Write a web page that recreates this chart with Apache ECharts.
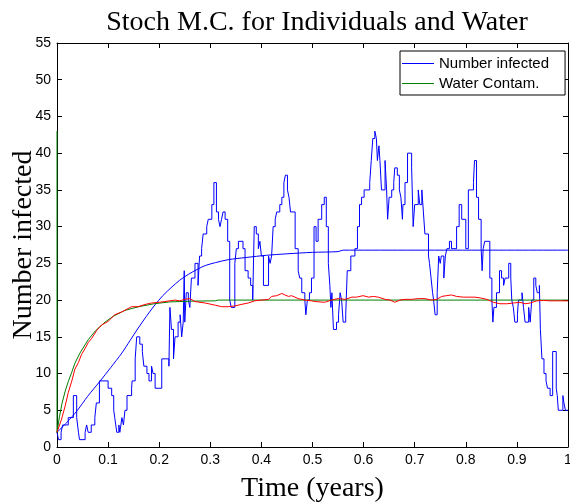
<!DOCTYPE html>
<html>
<head>
<meta charset="utf-8">
<script src="https://cdn.jsdelivr.net/npm/echarts@6/dist/echarts.min.js"></script>
<style>html,body{margin:0;padding:0;background:#fff;}#c{width:570px;height:503px;}</style>
</head>
<body>
<div id="c"></div>
<script>
// Tick labels
const xTickLabels = ['0','0.1','0.2','0.3','0.4','0.5','0.6','0.7','0.8','0.9','1'];
const yTickLabels = ['0','5','10','15','20','25','30','35','40','45','50','55'];

// Stochastic number infected [time, count]
const infectedStoch = [[0,2],[0.003,1],[0.008,2],[0.011,3],[0.022,4],[0.032,7],[0.0385,4],[0.042,2],[0.044,1],[0.055,2],[0.058,3],[0.061,2],[0.067,3],[0.074,4],[0.077,6],[0.083,9],[0.1,8],[0.107,7],[0.111,5],[0.113,4],[0.115,3],[0.117,2],[0.121,3],[0.123,2],[0.125,3],[0.127,4],[0.13,3],[0.133,5],[0.137,7],[0.146,8],[0.147,9],[0.153,12],[0.156,15],[0.162,14],[0.167,13],[0.170,11],[0.176,10],[0.180,9],[0.185,11],[0.188,10],[0.192,8],[0.205,12],[0.219,11],[0.221,19],[0.224,16],[0.228,12],[0.231,15],[0.237,17],[0.241,18],[0.244,15],[0.247,17],[0.249,24],[0.25,17],[0.253,21],[0.257,20],[0.26,19],[0.263,23],[0.27,25],[0.276,22],[0.279,26],[0.283,27],[0.286,29],[0.293,30],[0.296,31],[0.303,33],[0.307,36],[0.312,32],[0.316,31],[0.319,30],[0.322,31],[0.325,32],[0.329,31],[0.334,28],[0.338,20],[0.341,19],[0.348,25],[0.351,27],[0.355,28],[0.364,27],[0.368,24],[0.374,23],[0.379,22],[0.383,20],[0.386,30],[0.39,29],[0.394,27],[0.397,28],[0.4,26],[0.404,22],[0.414,26],[0.417,25],[0.42,26],[0.423,30],[0.427,31],[0.43,32],[0.436,33],[0.44,34],[0.444,36],[0.447,37],[0.451,35],[0.454,34],[0.457,32],[0.466,27],[0.472,24],[0.475,23],[0.479,21],[0.485,20],[0.487,18],[0.49,20],[0.494,21],[0.498,23],[0.503,30],[0.507,28],[0.511,31],[0.518,33],[0.523,34],[0.527,30],[0.531,25],[0.534,22],[0.536,19],[0.538,21],[0.541,16],[0.547,17],[0.551,18],[0.554,21],[0.557,20],[0.56,17],[0.565,18],[0.568,24],[0.575,26],[0.583,27],[0.588,30],[0.592,33],[0.596,34],[0.601,35],[0.612,36],[0.615,39],[0.618,42],[0.622,43],[0.625,42],[0.627,39],[0.63,41],[0.632,39],[0.635,35],[0.642,39],[0.645,35],[0.647,31],[0.65,34],[0.655,35],[0.659,36],[0.661,38],[0.666,37],[0.67,35],[0.673,34],[0.676,31],[0.677,33],[0.681,36],[0.686,40],[0.694,38],[0.697,30],[0.7,33],[0.707,35],[0.71,33],[0.714,35],[0.717,32],[0.72,29],[0.727,26],[0.729,25],[0.732,23],[0.735,21],[0.737,20],[0.74,18],[0.744,21],[0.747,26],[0.75,25],[0.752,26],[0.757,23],[0.76,26],[0.763,27],[0.768,28],[0.772,27],[0.782,30],[0.787,33],[0.792,31],[0.8,27],[0.805,35],[0.815,36],[0.817,39],[0.821,34],[0.825,31],[0.83,27],[0.832,24],[0.834,27],[0.837,28],[0.847,23],[0.851,20],[0.853,17],[0.855,19],[0.86,21],[0.866,24],[0.87,23],[0.874,22],[0.877,23],[0.884,25],[0.888,23],[0.89,20],[0.893,19],[0.896,17],[0.901,18],[0.903,20],[0.91,21],[0.913,19],[0.916,17],[0.923,19],[0.926,17],[0.929,20],[0.933,23],[0.937,22],[0.94,21],[0.944,22],[0.946,16],[0.949,12],[0.953,10],[0.957,9],[0.96,8],[0.965,7],[0.97,13],[0.977,8],[0.979,7],[0.981,5],[0.99,7],[0.992,6],[0.995,5],[1,5]];

// Deterministic number infected
const infectedDet = [[0,2],[0.02,3.4],[0.04,5.0],[0.06,6.9],[0.0835,8.9],[0.105,10.8],[0.127,12.8],[0.143,14.5],[0.159,16.2],[0.175,17.8],[0.19,19.2],[0.207,20.6],[0.225,21.8],[0.24,22.7],[0.257,23.5],[0.275,24.2],[0.29,24.7],[0.31,25.1],[0.335,25.5],[0.37,25.8],[0.41,26.1],[0.45,26.3],[0.5,26.5],[0.55,26.6],[0.56,26.8],[1,26.8]];

// Deterministic water contamination
const waterDet = [[0,43],[0,2],[0.005,4.2],[0.01,6.0],[0.016,7.6],[0.022,8.9],[0.029,10.2],[0.035,11.4],[0.045,12.8],[0.061,14.6],[0.075,15.8],[0.094,17.0],[0.11,17.8],[0.133,18.6],[0.16,19.1],[0.19,19.5],[0.22,19.75],[0.26,19.85],[0.31,19.9],[0.315,20],[1,20]];

// Stochastic water contamination
const waterStoch = [[0,2],[0.009,3.8],[0.016,5.6],[0.022,7.4],[0.029,9],[0.035,10.6],[0.042,11.5],[0.048,12.6],[0.055,13.4],[0.061,14.2],[0.068,14.8],[0.078,15.9],[0.087,16.6],[0.1,17.1],[0.113,18],[0.127,18.4],[0.146,19.1],[0.159,19.1],[0.172,19.4],[0.185,19.6],[0.2,19.7],[0.211,19.8],[0.231,20],[0.24,19.9],[0.25,20.1],[0.26,20.2],[0.27,19.8],[0.29,19.6],[0.31,19.3],[0.322,19.1],[0.335,19.1],[0.348,19.2],[0.36,19.4],[0.374,19.6],[0.387,19.9],[0.4,20],[0.414,20.1],[0.42,20.5],[0.43,20.6],[0.44,20.9],[0.446,20.7],[0.453,20.5],[0.459,20.6],[0.472,20.2],[0.485,20],[0.498,19.9],[0.505,19.8],[0.524,19.7],[0.537,20],[0.55,20.2],[0.564,20.1],[0.577,20.4],[0.586,20.4],[0.599,20.6],[0.61,20.4],[0.619,20.5],[0.629,20.4],[0.642,20.1],[0.652,20],[0.661,19.7],[0.671,20],[0.681,20.1],[0.694,20.1],[0.707,20.2],[0.72,20.2],[0.733,20],[0.743,20.1],[0.753,20.5],[0.762,20.6],[0.772,20.7],[0.782,20.5],[0.795,20.4],[0.808,20.4],[0.818,20.4],[0.828,20.3],[0.841,20.1],[0.854,19.7],[0.867,19.5],[0.88,19.5],[0.893,19.6],[0.906,19.7],[0.916,19.5],[0.926,19.6],[0.939,19.9],[0.952,19.95],[0.965,19.9],[0.984,19.9],[1,19.9]];

const chart = echarts.init(document.getElementById('c'), null, {renderer:'canvas'});
const black = '#000';
const tickFont = {color: black, fontSize: 14, fontFamily: 'Liberation Sans, Arial, sans-serif'};
const serif = {color: black, fontSize: 28, fontFamily: 'Liberation Serif, Times New Roman, serif', fontWeight: 'normal'};
function mkX(pos, showLabel, name) {
  return {
    type: 'value', min: 0, max: 1, interval: 0.1, position: pos,
    axisLine: {show: true, onZero: false, lineStyle: {color: black, width: 1}},
    axisTick: {show: true, inside: true, length: 5, lineStyle: {color: black}},
    axisLabel: Object.assign({show: showLabel, margin: 6, formatter: (v, i) => xTickLabels[i]}, tickFont),
    splitLine: {show: false},
    name: name || '', nameLocation: 'middle', nameGap: 28, nameMoveOverlap: false, nameTextStyle: serif
  };
}
function mkY(pos, showLabel, name) {
  return {
    type: 'value', min: 0, max: 55, interval: 5, position: pos,
    axisLine: {show: true, onZero: false, lineStyle: {color: black, width: 1}},
    axisTick: {show: true, inside: true, length: 5, lineStyle: {color: black}},
    axisLabel: Object.assign({show: showLabel, margin: 6, formatter: (v, i) => yTickLabels[i]}, tickFont),
    splitLine: {show: false},
    name: name || '', nameLocation: 'middle', nameGap: 19, nameRotate: 90, nameMoveOverlap: false, nameTextStyle: serif
  };
}
const option = {
  animation: false,
  backgroundColor: '#fff',
  title: {
    text: 'Stoch M.C. for Individuals and Water',
    left: 312, top: 4, textAlign: 'center',
    textStyle: serif
  },
  grid: {left: 57, right: 2, top: 43, bottom: 56, containLabel: false, outerBoundsMode: 'none'},
  xAxis: [mkX('bottom', true, 'Time (years)'), mkX('top', false)],
  yAxis: [mkY('left', true, 'Number infected'), mkY('right', false)],
  legend: {
    data: ['Number infected', 'Water Contam.'],
    orient: 'vertical', left: 400, top: 51,
    icon: 'rect', itemWidth: 32, itemHeight: 1, itemGap: 5,
    padding: [5, 16, 4, 2],
    borderColor: black, borderWidth: 1, backgroundColor: '#fff',
    textStyle: {color: black, fontSize: 15, fontFamily: 'Liberation Sans, Arial, sans-serif'}
  },
  series: [
    {name: 'Number infected', type: 'line', step: 'end', data: infectedStoch, showSymbol: false,
     color: '#0000ff', lineStyle: {color: '#0000ff', width: 1}, z: 2},
    {name: 'Infected (det.)', type: 'line', data: infectedDet, showSymbol: false, smooth: 0.3,
     color: '#0000ff', lineStyle: {color: '#0000ff', width: 1}, z: 2},
    {name: 'Water Contam.', type: 'line', data: waterDet, showSymbol: false,
     color: '#008000', lineStyle: {color: '#008000', width: 1}, z: 3},
    {name: 'Water (stoch.)', type: 'line', data: waterStoch, showSymbol: false,
     color: '#ff0000', lineStyle: {color: '#ff0000', width: 1}, z: 4}
  ]
};
chart.setOption(option);
</script>
</body>
</html>
